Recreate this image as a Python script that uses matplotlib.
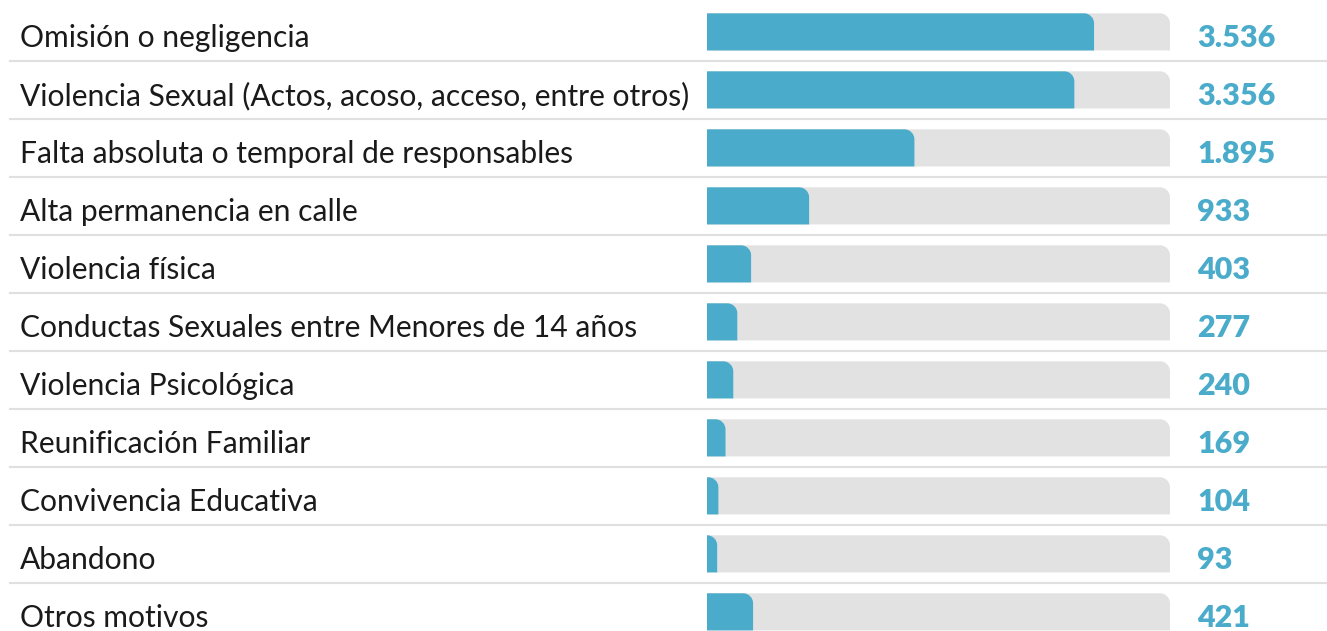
import matplotlib
matplotlib.use("Agg")
import matplotlib.pyplot as plt
from matplotlib.path import Path
from matplotlib.patches import PathPatch

plt.rcParams['font.family'] = ['Lato', 'DejaVu Sans']

categorias = [
    "Omisión o negligencia",
    "Violencia Sexual (Actos, acoso, acceso, entre otros)",
    "Falta absoluta o temporal de responsables",
    "Alta permanencia en calle",
    "Violencia física",
    "Conductas Sexuales entre Menores de 14 años",
    "Violencia Psicológica",
    "Reunificación Familiar",
    "Convivencia Educativa",
    "Abandono",
    "Otros motivos",
]
valores = [3536, 3356, 1895, 933, 403, 277, 240, 169, 104, 93, 421]
etiquetas = ["3.536", "3.356", "1.895", "933", "403", "277", "240", "169", "104", "93", "421"]

azul = "#4aacca"
gris = "#e2e2e2"
W, H = 1327, 631
xmax = 4230          # largo de la pista gris, en unidades de datos
alto = 0.64          # alto de barra (en filas)

fig = plt.figure(figsize=(W / 100, H / 100), dpi=100)
fondo = fig.add_axes([0, 0, 1, 1])
ax = fig.add_axes([707 / W, 0, 463 / W, 1])
ylim = (10.33, -0.55)
for a in (fondo, ax):
    a.set_ylim(*ylim)
    a.axis("off")
fondo.set_xlim(0, 1)
ax.set_xlim(0, xmax)

# radio de la esquina redondeada (10 px) en unidades de datos
rx = 10 * xmax / 463
ry = 10 * (ylim[0] - ylim[1]) / H


def barra(y, w, color):
    top, bot = y - alto / 2, y + alto / 2
    r = min(rx, w)
    k = 0.5523
    verts = [(0, bot), (w, bot), (w, top + ry),
             (w, top + ry * (1 - k)), (w - r * (1 - k), top), (w - r, top),
             (0, top), (0, bot)]
    codes = [Path.MOVETO, Path.LINETO, Path.LINETO,
             Path.CURVE4, Path.CURVE4, Path.CURVE4,
             Path.LINETO, Path.CLOSEPOLY]
    ax.add_patch(PathPatch(Path(verts, codes), facecolor=color, edgecolor="none"))


for i, (cat, v, et) in enumerate(zip(categorias, valores, etiquetas)):
    barra(i, xmax, gris)
    barra(i, v, azul)
    fondo.text(20 / W, i + 0.26, cat, fontsize=21.6, color="#1a1a1a", va="baseline", ha="left")
    fondo.text(1197 / W, i + 0.26, et, fontsize=22, color=azul, fontweight="heavy",
               va="baseline", ha="left")
    if i < len(categorias) - 1:
        fondo.plot([10 / W, 1], [i + 0.5, i + 0.5], color="#e0e0e0", lw=1.5)

fig.savefig("out.png", dpi=100)
